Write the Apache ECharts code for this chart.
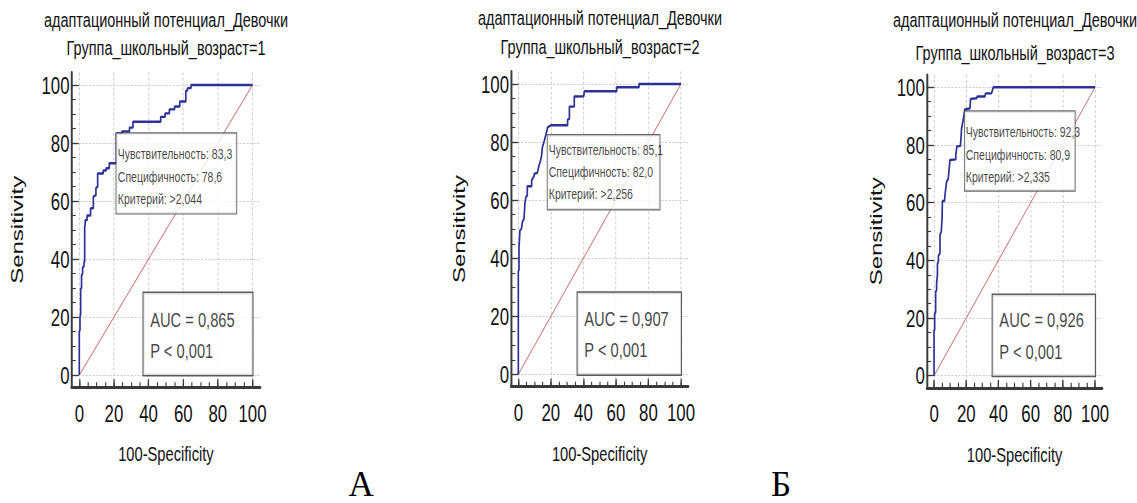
<!DOCTYPE html>
<html>
<head>
<meta charset="utf-8">
<title>ROC</title>
<script src="https://cdn.jsdelivr.net/npm/echarts@6/dist/echarts.min.js"></script>
<style>
  html, body { margin: 0; padding: 0; background: #fff; overflow: hidden; }
  #wrap { width: 1137px; height: 503px; overflow: hidden; }
  /* the figure is drawn wide and squeezed horizontally, giving the condensed lettering */
  #chart { width: 1624px; height: 503px; transform-origin: 0 0; }
</style>
</head>
<body>
<div id="wrap"><div id="chart"></div></div>
<script>
// ---- data ----
const chartTitle = 'адаптационный потенциал_Девочки';
const groupTitles = ['Группа_школьный_возраст=1', 'Группа_школьный_возраст=2', 'Группа_школьный_возраст=3'];
const panelLetters = ['А', 'Б'];
const xAxisName = '100-Specificity';
const yAxisName = 'Sensitivity';

const majorTicks = [0, 20, 40, 60, 80, 100];
const minorTicks = [0, 5, 10, 15, 20, 25, 30, 35, 40, 45, 50, 55, 60, 65, 70, 75, 80, 85, 90, 95, 100];

// ROC curves: [100-Specificity, Sensitivity]
const roc1 = [[0,0],[0,15],[0.4,15.5],[0.4,20],[0.8,21],[0.8,29.7],[1.3,30],[1.3,34.3],[1.9,35],[1.9,37],
  [2.7,37.5],[2.7,39],[3.1,39],[3.1,51],[3.4,52],[3.4,53.4],[4.5,53.4],[4.5,55],[6.5,55],[6.5,57.5],
  [8.1,57.5],[8.1,61.5],[9.6,62],[9.6,64.4],[10.6,65],[10.6,69.5],[13.8,69.5],[13.8,70.5],[15.5,70.5],
  [15.5,71.3],[17.3,71.3],[17.3,73],[21.4,73],[21.4,83.3],[24.6,83.3],[24.6,84],[29,84],[29,85.3],
  [31,85.3],[31,87.3],[47,87.3],[47,89],[49.5,89],[49.5,90.2],[52,90.2],[52,91.6],[55,91.6],[55,92.6],
  [58,92.6],[58,94.3],[61.5,94.3],[61.5,97.8],[62.5,98.3],[62.5,98.9],[64.5,98.9],[64.5,100],[100,100]];
const roc2 = [[0,0],[0,35.5],[0.4,36],[0.4,43.3],[1.0,49.6],[2.0,50.2],[2.5,52.5],[3.5,53.6],[4.1,59.3],
  [4.7,61.1],[5.5,61.6],[5.5,64.8],[8.2,64.8],[8.2,66.8],[9.8,68.5],[9.8,69.1],[11.7,69.4],[12.7,71.9],
  [13.7,73.7],[14.3,75.4],[14.8,78.2],[16.0,80.5],[16.8,82.2],[17.8,84.5],[18.0,85.1],[20,85.8],
  [30.3,85.8],[30.3,87.7],[31.4,88],[31.4,92.2],[34.4,92.2],[34.4,95.7],[40.2,95.8],[40.6,97.5],
  [60.5,97.5],[60.5,98.9],[74.2,98.9],[74.2,100],[100,100]];
const roc3 = [[0,0],[0,15.7],[0.4,16],[0.4,21.5],[1.0,22],[1.0,29],[1.6,29.8],[1.6,32],[2.1,35],[2.1,38.7],
  [2.7,39.6],[2.7,41.6],[3.7,42.5],[3.7,48.8],[4.5,50],[5.0,55],[5.2,60.6],[6.5,60.6],[6.8,62.7],
  [7.8,67.3],[8.8,68.2],[9.9,74.8],[13.5,75],[13.5,76.5],[14.2,79.5],[16.4,79.7],[17.1,85.8],
  [18.3,89.3],[19.1,92.3],[22.3,92.7],[22.7,96],[26.4,96.2],[26.9,96.8],[31.6,96.8],[32,97.9],
  [35.7,97.9],[36.8,100],[100,100]];
const rocCurves = [roc1, roc2, roc3];
const referenceLine = [[0, 0], [100, 100]];

const sensitivity = [83.3, 85.1, 92.3];
const specificity = [78.6, 82.0, 80.9];
const criterion = ['>2,044', '>2,256', '>2,335'];
const aucValues = [0.865, 0.907, 0.926];
const pValues = ['< 0,001', '< 0,001', '< 0,001'];

// ---- layout and styles ----
const PAGE_W = 1137, DRAW_W = 1624;
const SQ = PAGE_W / DRAW_W;            // horizontal squeeze applied to the drawing
const u = v => v / SQ;                 // page x-distance -> drawing x-distance
document.getElementById('chart').style.transform = 'scaleX(' + SQ + ')';

const SANS = "'Liberation Sans',Arial,sans-serif";
const TXT = '#111';
const AXIS = '#3a3a3a';

// positions below are in page pixels
const panels = [
  { grid: { left: 71.5, top: 72.5, width: 188.8, height: 314.7 }, title: [166, 20, 48],
    crit: { w: 120, h: 80, pt: 9.5, pl: 1.5, lh: 22.5, dy: 0 },
    auc: { w: 109, h: 82, pt: 10.9, pl: 6.7 }, nameCenter: 54.8 },
  { grid: { left: 511, top: 71.5, width: 177.3, height: 315.2 }, title: [600, 18, 47],
    crit: { w: 112, h: 74, pt: 4, pl: 1.2, lh: 22, dy: 8 },
    auc: { w: 103.4, h: 81.7, pt: 10.2, pl: 6.7 }, nameCenter: 52 },
  { grid: { left: 926.8, top: 74.9, width: 175.5, height: 312.9 }, title: [1015, 20, 53],
    crit: { w: 110, h: 79, pt: 9.5, pl: 1, lh: 22.2, dy: 2 },
    auc: { w: 102.4, h: 80.7, pt: 9.4, pl: 6.7 }, nameCenter: 50.8 }
];
const letterPos = [[361, 484], [781, 484]];

const X_RANGE = [-4.5, 104.5];
const Y_RANGE = [-4.2, 104.3];
const comma = (v, d) => v.toFixed(d).replace('.', ',');

const gridLine = { show: true, lineStyle: { color: '#c4c4c4', width: 1, type: [3, 2] } };

const grids = [], xAxes = [], yAxes = [], series = [], graphics = [];

panels.forEach((p, i) => {
  grids.push({ left: u(p.grid.left), top: p.grid.top, width: u(p.grid.width), height: p.grid.height });

  // major axis (line, labels, grid) + minor axis (short ticks) on the same side
  xAxes.push({
    gridIndex: i, type: 'value', position: 'bottom', min: X_RANGE[0], max: X_RANGE[1],
    axisLine: { show: true, onZero: false, lineStyle: { color: AXIS, width: 2.8 } },
    axisTick: { show: true, inside: true, length: 8, customValues: majorTicks, lineStyle: { color: AXIS, width: 1.8 } },
    axisLabel: { customValues: majorTicks, margin: 14, fontSize: 24, fontFamily: SANS, color: TXT },
    splitLine: gridLine,
    name: xAxisName, nameLocation: 'middle', nameGap: 56.5,
    nameTextStyle: { fontSize: 21, fontFamily: SANS, color: TXT }
  });
  xAxes.push({
    gridIndex: i, type: 'value', position: 'bottom', min: X_RANGE[0], max: X_RANGE[1],
    axisLine: { show: false, onZero: false },
    axisTick: { show: true, inside: true, length: 5, customValues: minorTicks, lineStyle: { color: AXIS, width: 1.6 } },
    axisLabel: { show: false }, splitLine: { show: false }
  });
  yAxes.push({
    gridIndex: i, type: 'value', position: 'left', min: Y_RANGE[0], max: Y_RANGE[1],
    axisLine: { show: true, onZero: false, lineStyle: { color: AXIS, width: 2.8 } },
    axisTick: { show: true, inside: true, length: u(7.3), customValues: majorTicks, lineStyle: { color: AXIS, width: 1.3 } },
    axisLabel: { customValues: majorTicks, margin: u(2), fontSize: 24, fontFamily: SANS, color: TXT },
    splitLine: gridLine,
    name: yAxisName, nameLocation: 'middle', nameRotate: 90, nameGap: u(p.nameCenter) - 12.5,
    nameTextStyle: { fontSize: 24, fontFamily: SANS, color: TXT }
  });
  yAxes.push({
    gridIndex: i, type: 'value', position: 'left', min: Y_RANGE[0], max: Y_RANGE[1],
    axisLine: { show: false, onZero: false },
    axisTick: { show: true, inside: true, length: u(4.3), customValues: minorTicks, lineStyle: { color: AXIS, width: 1.1 } },
    axisLabel: { show: false }, splitLine: { show: false }
  });

  const xi = 2 * i, yi = 2 * i;

  series.push({
    type: 'line', xAxisIndex: xi, yAxisIndex: yi, data: referenceLine, showSymbol: false, silent: true,
    lineStyle: { color: '#c97575', width: 1.2 }, z: 2
  });
  series.push({
    type: 'line', xAxisIndex: xi, yAxisIndex: yi, data: rocCurves[i], showSymbol: false, silent: true,
    lineStyle: { color: '#2d3196', width: 2.4 }, z: 3
  });

  const c = p.crit;
  series.push({
    type: 'scatter', xAxisIndex: xi, yAxisIndex: yi, silent: true, z: 6,
    symbolSize: 0, itemStyle: { color: 'transparent' },
    data: [[100 - specificity[i], sensitivity[i]]],
    label: {
      show: true, position: [0, c.dy], align: 'left', verticalAlign: 'top',
      formatter: 'Чувствительность: ' + comma(sensitivity[i], 1) + '\nСпецифичность: ' +
        comma(specificity[i], 1) + '\nКритерий: ' + criterion[i],
      fontFamily: SANS, fontSize: 15, lineHeight: c.lh, color: TXT,
      backgroundColor: '#fff', borderColor: '#444', borderWidth: 1.2,
      padding: [c.pt, 0, 0, u(c.pl)], width: u(c.w - c.pl), height: c.h - c.pt
    }
  });

  const a = p.auc;
  series.push({
    type: 'scatter', xAxisIndex: xi, yAxisIndex: yi, silent: true, z: 6,
    symbolSize: 0, itemStyle: { color: 'transparent' },
    data: [[100, 0]],
    label: {
      show: true, position: [-u(a.w), -a.h], align: 'left', verticalAlign: 'top',
      formatter: 'AUC = ' + comma(aucValues[i], 3) + '\nP ' + pValues[i],
      fontFamily: SANS, fontSize: 21, lineHeight: 31.7, color: TXT,
      backgroundColor: '#fff', borderColor: '#333', borderWidth: 1.5,
      padding: [a.pt, 0, 0, u(a.pl)], width: u(a.w - a.pl), height: a.h - a.pt
    }
  });

  graphics.push({ type: 'text', x: u(p.title[0]), y: p.title[1], silent: true,
    style: { text: chartTitle, fontSize: 20.7, fontFamily: SANS, fill: TXT, align: 'center', verticalAlign: 'middle' } });
  graphics.push({ type: 'text', x: u(p.title[0]), y: p.title[2], silent: true,
    style: { text: groupTitles[i], fontSize: 20.7, fontFamily: SANS, fill: TXT, align: 'center', verticalAlign: 'middle' } });
});

// panel captions are set in ordinary (unsqueezed) serif type
panelLetters.forEach((t, i) => {
  graphics.push({ type: 'text', x: u(letterPos[i][0]), y: letterPos[i][1], scaleX: 1 / SQ, silent: true,
    style: { text: t, fontSize: 35, fontFamily: "'Liberation Serif','Times New Roman',serif", fill: '#000', align: 'center', verticalAlign: 'middle' } });
});

const chart = echarts.init(document.getElementById('chart'), null, { renderer: 'svg', width: DRAW_W, height: 503 });
chart.setOption({
  animation: false,
  backgroundColor: '#fff',
  grid: grids,
  xAxis: xAxes,
  yAxis: yAxes,
  series: series,
  graphic: graphics
});
</script>
</body>
</html>
